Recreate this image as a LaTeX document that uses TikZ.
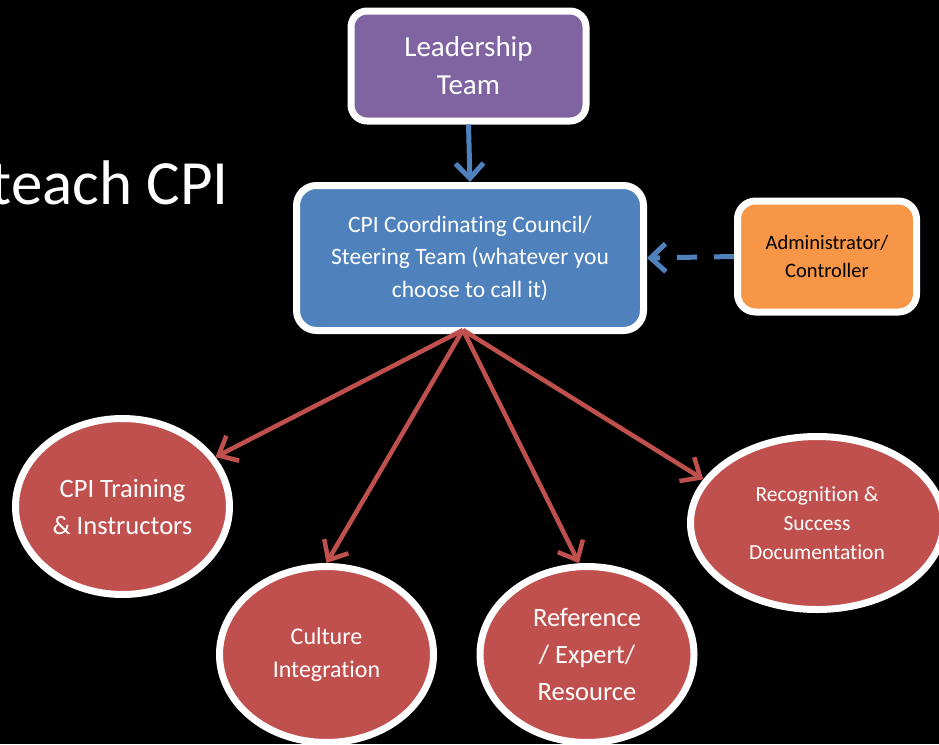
\documentclass[tikz,border=0pt]{standalone}
\usepackage{fontspec}
\setmainfont{Carlito}[Ligatures=NoCommon]
\usetikzlibrary{arrows.meta,shapes.geometric}

\definecolor{cpipurple}{HTML}{8064A2}
\definecolor{cpiblue}{HTML}{4F81BD}
\definecolor{cpiorange}{HTML}{F79646}
\definecolor{cpired}{HTML}{C0504D}

\tikzset{
  box/.style={draw=white, line width=7pt, inner sep=0pt, align=center, text=white},
  bubble/.style={ellipse, draw=white, line width=7pt, fill=cpired, inner sep=0pt,
    minimum width=214pt, minimum height=176pt, align=center, text=white},
  bluelink/.style={draw=cpiblue, line width=5pt, -{Straight Barb[length=15pt,width=28pt]}},
  redlink/.style={draw=cpired, line width=4.5pt, -{Straight Barb[length=16pt,width=28pt]}},
}

\begin{document}
\begin{tikzpicture}[x=1pt,y=-1pt]
    \useasboundingbox (0,0) rectangle (939,744);
    \fill[black] (0,0) rectangle (939,744);
    \clip (0,0) rectangle (939,744);

    % title text, cut at the left edge
    \node[anchor=base east, text=white, inner sep=0pt, font=\fontsize{63}{65}\selectfont]
      (title) at (229,204) {teach CPI};

    % boxes
    \node[box, fill=cpipurple, rounded corners=16pt, minimum width=235pt, minimum height=110pt,
      font=\fontsize{29}{38}\selectfont] (lead) at (468.5,66) {Leadership\\Team};
    \node[box, fill=cpiblue, rounded corners=20pt, minimum width=347pt, minimum height=145pt,
      font=\fontsize{23.5}{32.5}\selectfont] (cpi) at (470,258)
      {CPI Coordinating Council/\\Steering Team (whatever you\\choose to call it)};
    \node[box, fill=cpiorange, rounded corners=18pt, minimum width=179pt, minimum height=111pt,
      text=black, font=\fontsize{20.5}{28}\selectfont] (admin) at (827,256.5)
      {Administrator/\\Controller};

    % ellipses
    \node[bubble, font=\fontsize{26.5}{37}\selectfont] (train) at (122.5,506.5)
      {CPI Training\\\& Instructors};
    \node[bubble, font=\fontsize{24}{33}\selectfont] (culture) at (326.5,654.5)
      {Culture\\Integration};
    \node[bubble, font=\fontsize{26.5}{37}\selectfont] (refer) at (587,654.5)
      {Reference\\/ Expert/\\Resource};
    \node[bubble, minimum width=253pt, minimum height=173pt,
      font=\fontsize{21.5}{29}\selectfont] (recog) at (817,523)
      {Recognition \&\\Success\\Documentation};

    % connectors
    \draw[bluelink] (lead.south) -- (cpi.north);
    \draw[bluelink, dash pattern=on 20pt off 17pt] (admin.west) -- (cpi.east);

    \coordinate (hub) at ([xshift=-7pt,yshift=4pt]cpi.south);
    \draw[redlink] (hub) -- (train.28);
    \draw[redlink] (hub) -- (culture.north);
    \draw[redlink] (hub) -- (refer.95);
    \draw[redlink] (hub) -- (recog.159);

\end{tikzpicture}
\end{document}
